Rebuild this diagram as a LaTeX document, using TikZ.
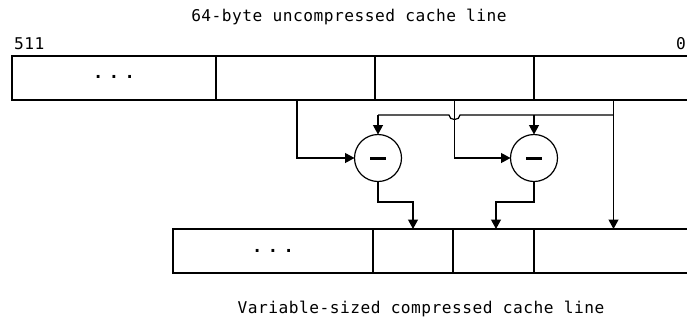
\documentclass[tikz,border=0pt]{standalone}
\usepackage{fontspec}
\newfontfamily\monofnt{DejaVu Sans Mono}[LetterSpace=3]
\usetikzlibrary{arrows.meta}
\tikzset{
  cell/.style={draw, line width=1.2pt, inner sep=0pt, outer sep=0pt, minimum height=44pt, anchor=north west},
  opnode/.style={draw, circle, line width=1.2pt, inner sep=0pt, outer sep=0pt, minimum size=47pt},
  wire/.style={line width=1.2pt},
  arr/.style={wire, -{Triangle[width=10pt,length=9.5pt]}},
  lbl/.style={inner sep=0pt, font=\monofnt\fontsize{16.2}{19}\selectfont},
  dotlbl/.style={inner sep=0pt, font=\monofnt\fontsize{17}{19}\selectfont\bfseries}
}
\newcommand{\threedots}{.\hspace{5.5pt}.\hspace{5.5pt}.}
\begin{document}
\begin{tikzpicture}[x=1pt,y=-1pt]
\clip (0,0) rectangle (687,322);
\fill[white] (0,0) rectangle (687,322);
% top cache line
\node[cell, minimum width=204pt] (t1) at (12,56) {};
\node[cell, minimum width=159pt] (t2) at (216,56) {};
\node[cell, minimum width=159pt] (t3) at (375,56) {};
\node[cell, minimum width=159pt] (t4) at (534,56) {};
% bottom cache line
\node[cell, minimum width=200pt] (b1) at (173,229) {};
\node[cell, minimum width=80pt] (b2) at (373,229) {};
\node[cell, minimum width=81pt] (b3) at (453,229) {};
\node[cell, minimum width=159pt] (b4) at (534,229) {};
% dots
\node[dotlbl] (d1) at ([yshift=1pt]t1.center) {\threedots};
\node[dotlbl] (d2) at (b1.center) {\threedots};
% labels
\node[lbl, anchor=base] (title) at (349,21) {64-byte uncompressed cache line};
\node[lbl, anchor=base west] (hi) at (14,49) {511};
\node[lbl, anchor=base west] (lo) at (676,49) {0};
\node[lbl, anchor=base] (sub) at (421,313) {Variable-sized compressed cache line};
% subtractors
\node[opnode] (c1) at (378,158) {};
\node[opnode] (c2) at (534,158) {};
\draw[line width=3pt] ([xshift=-8pt]c1.center) -- ([xshift=8pt]c1.center);
\draw[line width=3pt] ([xshift=-8pt]c2.center) -- ([xshift=8pt]c2.center);
% helper coordinates
\coordinate (h1) at (378,115);
\coordinate (h2) at (534,115);
\coordinate (k1) at (378,202);
\coordinate (k2) at (534,202);
% base broadcast line with hop
\draw[wire] (h1) -- ([xshift=-5.5pt]t3.south |- h1)
  .. controls ([xshift=-5.5pt,yshift=-6pt]t3.south |- h1) and ([xshift=5.5pt,yshift=-6pt]t3.south |- h1) ..
  ([xshift=5.5pt]t3.south |- h1) -- (t4.south |- h1);
\draw[arr] (h1) -- (c1.north);
\draw[arr] (h2) -- (c2.north);
% left inputs
\draw[arr] ([xshift=1.5pt]t2.south) |- (c1.west);
\draw[arr] (t3.south) |- (c2.west);
% base straight down
\draw[arr] (t4.south) -- (b4.north);
% outputs
\draw[arr] (c1.south) -- (k1) -| (b2.north);
\draw[arr] (c2.south) -- (k2) -| ([xshift=2.5pt]b3.north);
\end{tikzpicture}
\end{document}
